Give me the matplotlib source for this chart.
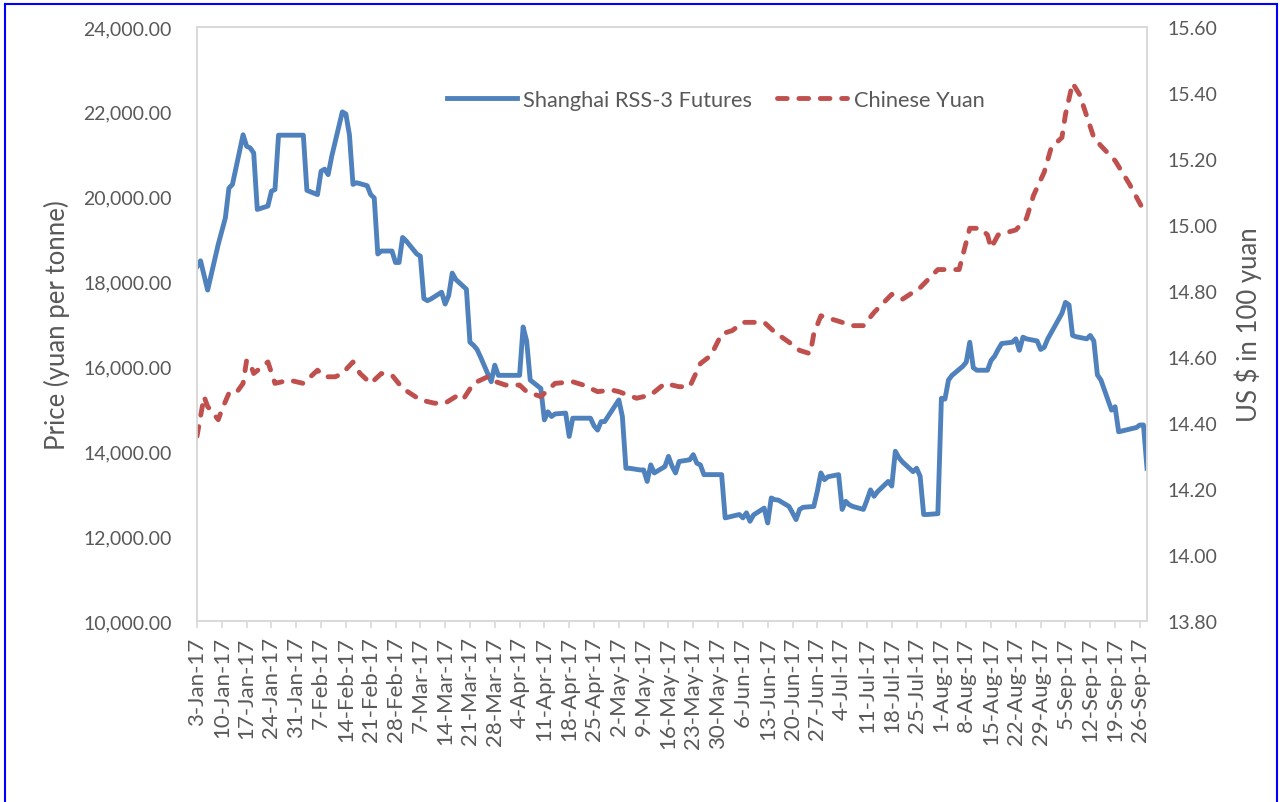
import numpy as np
import pandas as pd
import matplotlib
matplotlib.use('Agg')
import matplotlib.pyplot as plt
from matplotlib.ticker import FuncFormatter
from matplotlib.lines import Line2D

plt.rcParams['font.family'] = ['Lato', 'DejaVu Sans']

# Shanghai RSS-3 futures (yuan per tonne)
rss_dates = ['2017-01-03', '2017-01-04', '2017-01-06', '2017-01-09', '2017-01-11', '2017-01-12',
             '2017-01-13', '2017-01-16', '2017-01-17', '2017-01-18', '2017-01-19', '2017-01-20',
             '2017-01-23', '2017-01-24', '2017-01-25', '2017-01-26', '2017-02-02', '2017-02-03',
             '2017-02-06', '2017-02-07', '2017-02-08', '2017-02-09', '2017-02-10', '2017-02-13',
             '2017-02-14', '2017-02-15', '2017-02-16', '2017-02-17', '2017-02-20', '2017-02-21',
             '2017-02-22', '2017-02-23', '2017-02-24', '2017-02-27', '2017-02-28', '2017-03-01',
             '2017-03-02', '2017-03-03', '2017-03-06', '2017-03-07', '2017-03-08', '2017-03-09',
             '2017-03-10', '2017-03-13', '2017-03-14', '2017-03-15', '2017-03-16', '2017-03-17',
             '2017-03-20', '2017-03-21', '2017-03-22', '2017-03-23', '2017-03-24', '2017-03-27',
             '2017-03-28', '2017-03-29', '2017-03-31', '2017-04-04', '2017-04-05', '2017-04-06',
             '2017-04-07', '2017-04-10', '2017-04-11', '2017-04-12', '2017-04-13', '2017-04-14',
             '2017-04-17', '2017-04-18', '2017-04-19', '2017-04-24', '2017-04-25', '2017-04-26',
             '2017-04-27', '2017-04-28', '2017-05-02', '2017-05-03', '2017-05-04', '2017-05-05',
             '2017-05-08', '2017-05-09', '2017-05-10', '2017-05-11', '2017-05-12', '2017-05-15',
             '2017-05-16', '2017-05-17', '2017-05-18', '2017-05-19', '2017-05-22', '2017-05-23',
             '2017-05-24', '2017-05-25', '2017-05-26', '2017-05-31', '2017-06-01', '2017-06-02',
             '2017-06-05', '2017-06-06', '2017-06-07', '2017-06-08', '2017-06-09', '2017-06-12',
             '2017-06-13', '2017-06-14', '2017-06-15', '2017-06-16', '2017-06-19', '2017-06-20',
             '2017-06-21', '2017-06-22', '2017-06-23', '2017-06-26', '2017-06-27', '2017-06-28',
             '2017-06-29', '2017-06-30', '2017-07-03', '2017-07-04', '2017-07-05', '2017-07-06',
             '2017-07-07', '2017-07-10', '2017-07-11', '2017-07-12', '2017-07-13', '2017-07-14',
             '2017-07-17', '2017-07-18', '2017-07-19', '2017-07-20', '2017-07-21', '2017-07-24',
             '2017-07-25', '2017-07-26', '2017-07-27', '2017-07-28', '2017-07-31', '2017-08-01',
             '2017-08-02', '2017-08-03', '2017-08-04', '2017-08-07', '2017-08-08', '2017-08-09',
             '2017-08-10', '2017-08-11', '2017-08-14', '2017-08-15', '2017-08-16', '2017-08-17',
             '2017-08-18', '2017-08-21', '2017-08-22', '2017-08-23', '2017-08-24', '2017-08-25',
             '2017-08-28', '2017-08-29', '2017-08-30', '2017-08-31', '2017-09-01', '2017-09-04',
             '2017-09-05', '2017-09-06', '2017-09-07', '2017-09-08', '2017-09-11', '2017-09-12',
             '2017-09-13', '2017-09-14', '2017-09-15', '2017-09-18', '2017-09-19', '2017-09-20',
             '2017-09-21', '2017-09-22', '2017-09-25', '2017-09-26', '2017-09-27', '2017-09-28']
rss_price = [18350, 18490, 17800, 18880, 19500, 20200,
             20290, 21460, 21190, 21150, 21030, 19700,
             19780, 20130, 20170, 21450, 21450, 20150,
             20050, 20600, 20650, 20520, 20950, 22000,
             21950, 21460, 20290, 20330, 20260, 20050,
             19970, 18650, 18720, 18720, 18450, 18450,
             19040, 18960, 18650, 18600, 17600, 17550,
             17590, 17750, 17470, 17670, 18200, 18050,
             17820, 16570, 16500, 16400, 16220, 15640,
             16030, 15790, 15790, 15790, 16930, 16600,
             15680, 15480, 14740, 14930, 14820, 14880,
             14900, 14350, 14780, 14780, 14600, 14500,
             14700, 14700, 15210, 14820, 13600, 13600,
             13560, 13560, 13290, 13680, 13490, 13640,
             13880, 13650, 13490, 13760, 13800, 13920,
             13720, 13680, 13450, 13450, 12430, 12450,
             12510, 12430, 12550, 12350, 12500, 12660,
             12310, 12900, 12860, 12850, 12700, 12550,
             12390, 12630, 12680, 12700, 13060, 13490,
             13330, 13400, 13450, 12630, 12820, 12740,
             12700, 12630, 12850, 13090, 12940, 13050,
             13290, 13180, 14000, 13850, 13750, 13520,
             13600, 13410, 12510, 12510, 12530, 15250,
             15230, 15680, 15790, 16000, 16100, 16570,
             15970, 15910, 15910, 16140, 16240, 16400,
             16540, 16570, 16650, 16380, 16690, 16650,
             16600, 16400, 16450, 16650, 16800, 17250,
             17510, 17450, 16730, 16700, 16650, 16730,
             16600, 15800, 15680, 14970, 15050, 14460,
             14480, 14500, 14560, 14620, 14620, 13600]

# Chinese yuan (US $ in 100 yuan)
cny_dates = ['2017-01-03', '2017-01-05', '2017-01-06', '2017-01-09', '2017-01-10', '2017-01-12',
             '2017-01-14', '2017-01-16', '2017-01-17', '2017-01-18', '2017-01-19', '2017-01-23',
             '2017-01-25', '2017-01-29', '2017-02-02', '2017-02-06', '2017-02-08', '2017-02-11',
             '2017-02-13', '2017-02-16', '2017-02-18', '2017-02-21', '2017-02-24', '2017-02-27',
             '2017-03-02', '2017-03-07', '2017-03-11', '2017-03-14', '2017-03-17', '2017-03-19',
             '2017-03-22', '2017-03-26', '2017-03-27', '2017-03-31', '2017-04-04', '2017-04-06',
             '2017-04-10', '2017-04-14', '2017-04-19', '2017-04-22', '2017-04-26', '2017-04-30',
             '2017-05-02', '2017-05-07', '2017-05-11', '2017-05-15', '2017-05-19', '2017-05-22',
             '2017-05-25', '2017-05-28', '2017-05-31', '2017-06-03', '2017-06-06', '2017-06-12',
             '2017-06-15', '2017-06-19', '2017-06-22', '2017-06-25', '2017-06-26', '2017-06-28',
             '2017-07-01', '2017-07-07', '2017-07-10', '2017-07-13', '2017-07-18', '2017-07-21',
             '2017-07-26', '2017-07-31', '2017-08-06', '2017-08-09', '2017-08-12', '2017-08-14',
             '2017-08-15', '2017-08-17', '2017-08-22', '2017-08-25', '2017-08-27', '2017-08-30',
             '2017-09-01', '2017-09-04', '2017-09-05', '2017-09-07', '2017-09-09', '2017-09-13',
             '2017-09-15', '2017-09-19', '2017-09-23', '2017-09-27']
cny_rate = [14.36, 14.48, 14.45, 14.41, 14.44, 14.49,
            14.49, 14.52, 14.59, 14.58, 14.55, 14.585,
            14.52, 14.53, 14.52, 14.56, 14.54, 14.54,
            14.55, 14.585, 14.55, 14.52, 14.55, 14.545,
            14.505, 14.47, 14.46, 14.46, 14.48, 14.47,
            14.52, 14.54, 14.53, 14.515, 14.515, 14.495,
            14.48, 14.52, 14.525, 14.515, 14.495, 14.50,
            14.495, 14.475, 14.485, 14.52, 14.51, 14.51,
            14.58, 14.605, 14.67, 14.68, 14.705, 14.705,
            14.675, 14.645, 14.62, 14.61, 14.67, 14.725,
            14.715, 14.695, 14.695, 14.735, 14.79, 14.775,
            14.81, 14.865, 14.865, 14.99, 14.99, 14.97,
            14.93, 14.97, 14.985, 15.02, 15.09, 15.16,
            15.235, 15.265, 15.335, 15.43, 15.395, 15.265,
            15.24, 15.195, 15.125, 15.045]

blue = '#4F81BD'
red = '#C0504D'
grey_txt = '#595959'
grey_line = '#D9D9D9'

rss_dates = pd.to_datetime(rss_dates)
cny_dates = pd.to_datetime(cny_dates)

fig = plt.figure(figsize=(12.8, 8.03), dpi=100)
ax = fig.add_axes([197 / 1280, 1 - 622 / 803, 950 / 1280, 594 / 803])
ax2 = ax.twinx()

l1, = ax.plot(rss_dates, rss_price, color=blue, lw=3.5, solid_joinstyle='round',
              label='Shanghai RSS-3 Futures')
l2, = ax2.plot(cny_dates, cny_rate, color=red, lw=3.5, linestyle=(0, (2.0, 2.4)),
               dash_capstyle='round', label='Chinese Yuan')

ax.set_xlim(pd.Timestamp('2017-01-03'), pd.Timestamp('2017-09-28'))
ax.set_ylim(10000, 24000)
ax.set_yticks(np.arange(10000, 24001, 2000))
ax.yaxis.set_major_formatter(FuncFormatter(lambda v, p: '{:,.2f}'.format(v)))
ax2.set_ylim(13.8, 15.6)
ax2.set_yticks(np.arange(13.8, 15.61, 0.2))
ax2.yaxis.set_major_formatter(FuncFormatter(lambda v, p: '{:.2f}'.format(v)))

xticks = pd.date_range('2017-01-03', '2017-09-26', freq='7D')
ax.set_xticks(xticks)
ax.set_xticklabels([f"{d.day}-{d.strftime('%b-%y')}" for d in xticks], rotation=90)

for a in (ax, ax2):
    for s in a.spines.values():
        s.set_color(grey_line)
        s.set_linewidth(1.2)
ax.tick_params(axis='y', length=0, pad=18, labelsize=14, labelcolor=grey_txt)
ax2.tick_params(axis='y', length=0, pad=15, labelsize=14, labelcolor=grey_txt)
ax.tick_params(axis='x', length=5, width=1.2, color=grey_line, pad=6,
               labelsize=16, labelcolor=grey_txt)

ax.set_ylabel('Price (yuan per tonne)', fontsize=18.5, color=grey_txt, labelpad=10)
ax2.set_ylabel('US $ in 100 yuan', fontsize=18.5, color=grey_txt, labelpad=12)

ax.legend(handles=[l1, l2], loc='center', bbox_to_anchor=(0.546, 0.877), ncol=2,
          frameon=False, fontsize=15.7, handlelength=3.2, handletextpad=0.3,
          columnspacing=1.15, labelcolor=grey_txt)

# blue frame around the picture
for xs, ys in [([5, 5], [0, 798]), ([5, 1277], [798, 798]), ([1277, 1277], [798, 0])]:
    fig.add_artist(Line2D([x / 1280 for x in xs], [y / 803 for y in ys],
                          color='#0000FF', lw=1.5))

fig.savefig('out.png', dpi=100, facecolor='white')
